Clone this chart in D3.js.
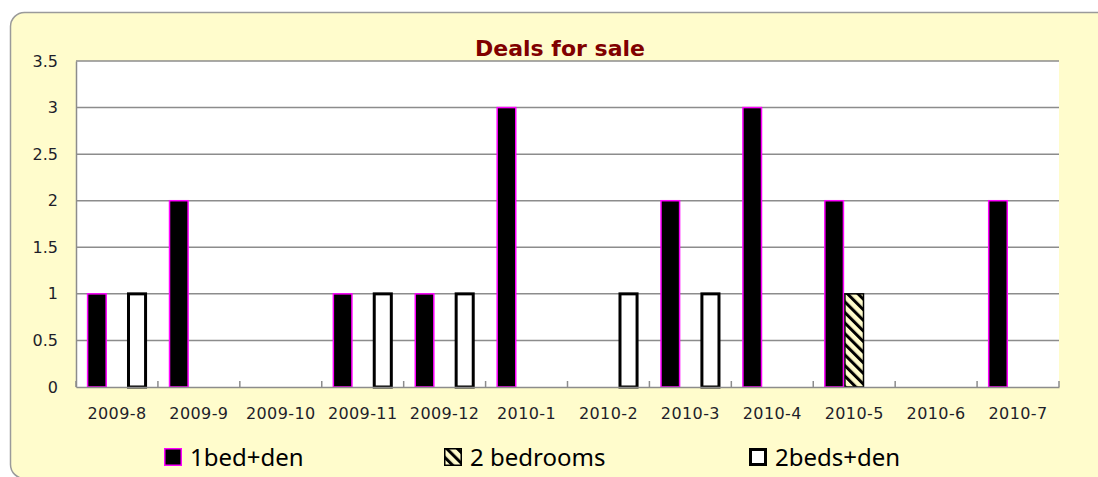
<!DOCTYPE html>
<html>
<head>
<meta charset="utf-8">
<script src="https://cdn.jsdelivr.net/npm/d3@7/dist/d3.min.js"></script>
<style>
  html, body { margin: 0; padding: 0; background: #ffffff; }
  svg { display: block; }
</style>
</head>
<body>
<svg id="chart" width="1098" height="477"></svg>
<script>
const categories = ["2009-8","2009-9","2009-10","2009-11","2009-12","2010-1","2010-2","2010-3","2010-4","2010-5","2010-6","2010-7"];
const seriesNames = ["1bed+den","2 bedrooms","2beds+den"];
const oneBedDen   = [1,2,0,1,1,3,0,2,3,2,0,2];
const twoBedrooms = [0,0,0,0,0,0,0,0,0,1,0,0];
const twoBedsDen  = [1,0,0,1,1,0,1,1,0,0,0,0];
const yTicks = [0,0.5,1,1.5,2,2.5,3,3.5];
const titleText = "Deals for sale";

const seriesValues = [oneBedDen, twoBedrooms, twoBedsDen];

const svg = d3.select("#chart");
const plot = {left: 76, right: 1059, top: 61, bottom: 387};
const bg = "#FFFCCC";

const defs = svg.append("defs");
const pat = defs.append("pattern")
  .attr("id","hatch").attr("patternUnits","userSpaceOnUse")
  .attr("width",7.5).attr("height",7.5)
  .attr("patternTransform","rotate(-45)");
pat.append("rect").attr("width",7.5).attr("height",7.5).attr("fill",bg);
pat.append("line").attr("x1",1.5).attr("y1",0).attr("x2",1.5).attr("y2",7.5)
  .attr("stroke","#000").attr("stroke-width",3);

// outer frame
svg.append("rect")
  .attr("x",10.5).attr("y",12.5).attr("width",1110).attr("height",466)
  .attr("rx",14).attr("ry",14)
  .attr("fill",bg).attr("stroke","#9a9a9a").attr("stroke-width",1.5);

// plot area
svg.append("rect")
  .attr("x",plot.left).attr("y",plot.top)
  .attr("width",plot.right-plot.left).attr("height",plot.bottom-plot.top)
  .attr("fill","#ffffff");

const y = d3.scaleLinear().domain([0,3.5]).range([plot.bottom, plot.top]);
const x0 = d3.scaleBand().domain(categories).range([plot.left, plot.right]).padding(0);
const bw = x0.bandwidth();
const gap = bw*0.265;
const x1 = d3.scaleBand().domain(seriesNames).range([gap/2, bw-gap/2]).padding(0);

// gridlines
svg.append("g").selectAll("line").data(yTicks.filter(t=>t>0)).join("line")
  .attr("x1",plot.left).attr("x2",plot.right)
  .attr("y1",d=>y(d)).attr("y2",d=>y(d))
  .attr("stroke","#8c8c8c").attr("stroke-width",1.5);

const tickFont = "DejaVu Sans, Verdana, sans-serif";

// y axis
const yAxis = svg.append("g").attr("transform",`translate(${plot.left},0)`)
  .call(d3.axisLeft(y).tickValues(yTicks).tickSize(0).tickPadding(18).tickFormat(d3.format("")));
yAxis.select(".domain").attr("stroke","#8c8c8c").attr("stroke-width",1.5);
yAxis.selectAll("text").attr("font-family",tickFont)
  .attr("font-size",16).attr("fill","#1e1e2a");

// bars
const styles = {
  "1bed+den":   {fill:"#000000", stroke:"#ff00ff", sw:1.5},
  "2 bedrooms": {fill:"url(#hatch)", stroke:"#000000", sw:1.5},
  "2beds+den":  {fill:"#ffffff", stroke:"#000000", sw:3}
};
const barData = [];
categories.forEach((c,i)=>{
  seriesNames.forEach((s,j)=>{
    const v = seriesValues[j][i];
    if (v > 0) barData.push({c, s, v});
  });
});
svg.append("g").selectAll("rect").data(barData).join("rect")
  .attr("x",d=>x0(d.c)+x1(d.s)+styles[d.s].sw/2)
  .attr("y",d=>y(d.v))
  .attr("width",d=>x1.bandwidth()-styles[d.s].sw)
  .attr("height",d=>y(0)-y(d.v))
  .attr("fill",d=>styles[d.s].fill)
  .attr("stroke",d=>styles[d.s].stroke)
  .attr("stroke-width",d=>styles[d.s].sw);

// x axis
const xAxis = svg.append("g").attr("transform",`translate(0,${plot.bottom})`)
  .call(d3.axisBottom(x0).tickSize(0).tickPadding(21));
xAxis.select(".domain").attr("stroke","#8c8c8c").attr("stroke-width",1.5);
xAxis.selectAll("text").attr("font-family",tickFont)
  .attr("font-size",16).attr("letter-spacing","0.4px").attr("fill","#1e1e2a");
// category boundary tick marks (pointing up)
const bounds = categories.map(c=>x0(c)).concat([plot.right]);
svg.append("g").selectAll("line").data(bounds).join("line")
  .attr("x1",d=>d).attr("x2",d=>d)
  .attr("y1",plot.bottom).attr("y2",plot.bottom-6)
  .attr("stroke","#8c8c8c").attr("stroke-width",1.5);

// title
svg.append("text").attr("x",560).attr("y",56).attr("text-anchor","middle")
  .attr("font-family",tickFont).attr("font-weight","bold")
  .attr("font-size",22).attr("fill","#800000").text(titleText);

// legend
const legendX = [164, 444, 749];
const lg = svg.append("g").selectAll("g").data(seriesNames).join("g")
  .attr("transform",(d,i)=>`translate(${legendX[i]},448)`);
lg.append("rect")
  .attr("x",d=>styles[d].sw/2).attr("y",d=>styles[d].sw/2)
  .attr("width",d=>18-styles[d].sw).attr("height",d=>18-styles[d].sw)
  .attr("fill",d=>styles[d].fill).attr("stroke",d=>styles[d].stroke)
  .attr("stroke-width",d=>styles[d].sw);
lg.append("text").attr("x",26).attr("y",17.5)
  .attr("font-family","Noto Sans, sans-serif").attr("font-size",24)
  .attr("fill","#000").text(d=>d);
</script>
</body>
</html>
